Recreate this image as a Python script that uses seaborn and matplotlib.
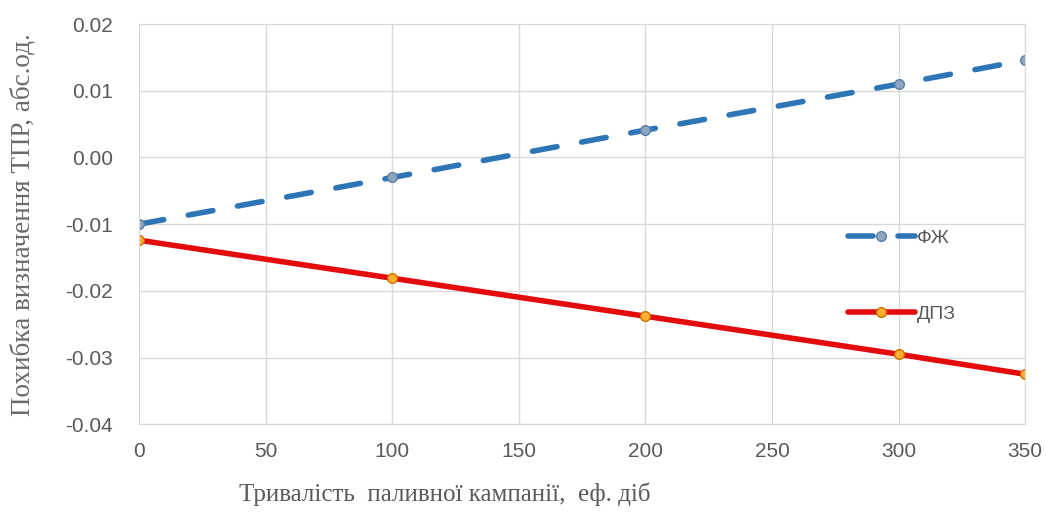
import matplotlib
matplotlib.use("Agg")
import matplotlib.pyplot as plt
import pandas as pd
import seaborn as sns

# campaign duration, eff. days
days = [0, 100, 200, 300, 350]
# error of TPR determination
fzh = [-0.0100, -0.0030, 0.0041, 0.0110, 0.0146]
dpz = [-0.0124, -0.0181, -0.0238, -0.0295, -0.0325]

x_ticks = [0, 50, 100, 150, 200, 250, 300, 350]
y_ticks = [-0.04, -0.03, -0.02, -0.01, 0.00, 0.01, 0.02]

df = pd.DataFrame({"day": days * 2,
                   "err": fzh + dpz,
                   "series": ["ФЖ"] * len(days) + ["ДПЗ"] * len(days)})

sns.set_style("white")
plt.rcParams['font.family'] = ['Liberation Sans', 'DejaVu Sans']

fig, ax = plt.subplots(figsize=(10.46, 5.13), dpi=100)
fig.subplots_adjust(left=0.133, right=0.98, top=0.953, bottom=0.173)

grid_c = "#d9d9d9"
text_c = "#595959"

sns.lineplot(data=df[df.series == "ФЖ"], x="day", y="err", ax=ax,
             color="#2e75b6", lw=4, linestyle=(0, (4.5, 4.5)),
             dash_capstyle="round",
             marker="o", markersize=7, markerfacecolor="#8fa6c0",
             markeredgecolor="#5b7fa6", markeredgewidth=1, label="ФЖ")
sns.lineplot(data=df[df.series == "ДПЗ"], x="day", y="err", ax=ax,
             color="#e30b0b", lw=4,
             marker="o", markersize=7, markerfacecolor="#ffb030",
             markeredgecolor="#d07000", markeredgewidth=1, label="ДПЗ")

ax.set_xlim(0, 350)
ax.set_ylim(-0.04, 0.02)
ax.set_xticks(x_ticks)
ax.set_yticks(y_ticks)
ax.set_yticklabels([f"{v:.2f}" for v in y_ticks])
ax.grid(True, color=grid_c, lw=1)
for s in ax.spines.values():
    s.set_color(grid_c)
ax.tick_params(axis="both", length=0, labelsize=15, colors=text_c)
ax.tick_params(axis="x", pad=13)
ax.tick_params(axis="y", pad=19)

ax.set_xlabel("Тривалість  паливної кампанії,  еф. діб", family="Liberation Serif",
              fontsize=18, color=text_c)
ax.xaxis.set_label_coords(0.345, -0.145)
ax.set_ylabel("Похибка визначення ТПР, абс.од.", family="Liberation Serif",
              fontsize=19.5, color="#6a6a6a", labelpad=21)

ax.legend(loc="center left", bbox_to_anchor=(0.80, 0.371), frameon=False,
          fontsize=14, labelcolor=text_c, handlelength=3.45, handletextpad=0.1,
          labelspacing=3.0, borderpad=0, borderaxespad=0)

fig.savefig("out.png", dpi=100)
